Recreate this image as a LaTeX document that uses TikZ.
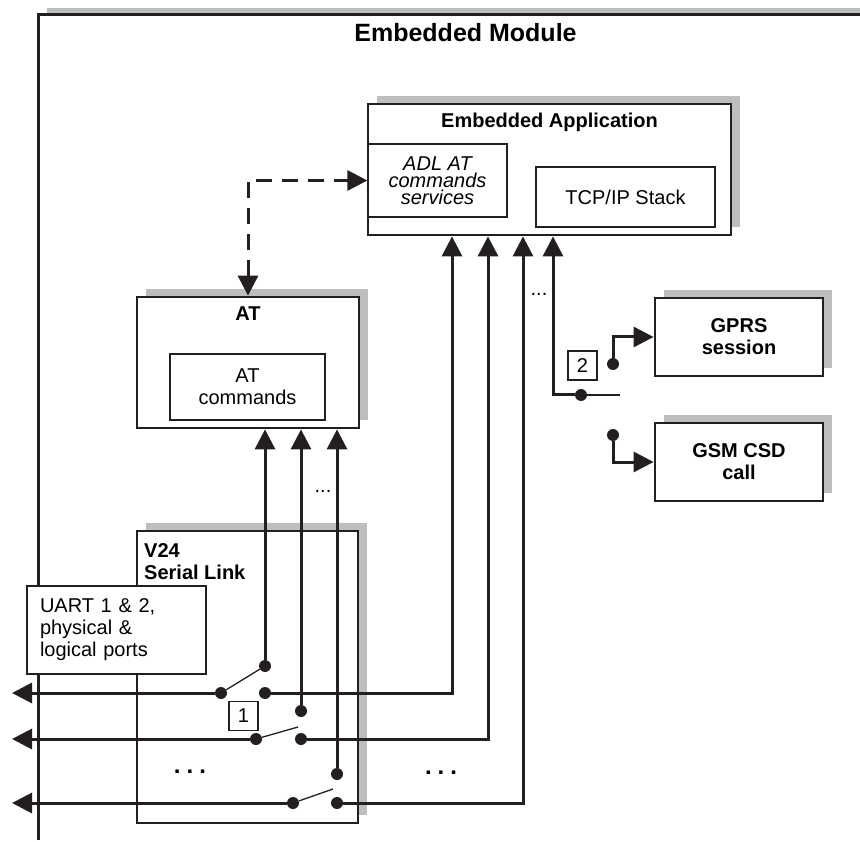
\documentclass[tikz,border=0pt]{standalone}
\usepackage{fontspec}
\setmainfont{Liberation Sans}
\usetikzlibrary{arrows.meta,positioning,shadows}
\definecolor{mygray}{RGB}{188,190,192}
\definecolor{myblack}{RGB}{35,31,32}

\begin{document}
\begin{tikzpicture}[x=1pt,y=-1pt,font=\fontsize{20}{22}\selectfont,
  bbox/.style={draw=myblack,line width=2.8pt,fill=white,
    drop shadow={shadow xshift=9pt,shadow yshift=8pt,fill=mygray,opacity=1}},
  sbox/.style={draw=myblack,line width=1.3pt},
  bold/.style={font=\bfseries\fontsize{20}{22}\selectfont},
  wire/.style={draw=myblack,line width=3pt},
  arr/.style={wire,-{Triangle[length=20pt,width=20pt]}},
  darr/.style={wire,dash pattern=on 16pt off 10pt,
    {Triangle[length=20pt,width=20pt]}-{Triangle[length=20pt,width=20pt]}},
  jdot/.style={circle,fill=myblack,inner sep=0pt,minimum size=12pt},
  lever/.style={draw=myblack,line width=1.3pt}]

  \useasboundingbox (0,0) rectangle (860,842);

  % module frame
  \fill[mygray] (47,8) rectangle (860,15);
  \draw[wire] (38,840) -- (38,15) -- (860,15);
  \node[anchor=base,font=\bfseries\fontsize{25}{30}\selectfont] (emod) at (465.5,41.5) {Embedded Module};

  % embedded application
  \node[bbox,minimum width=363pt,minimum height=131pt] (ea) at (549.5,169.5) {};
  \node[anchor=base,bold] (eatitle) at ([yshift=-25pt]ea.north) {Embedded Application};
  \node[sbox,minimum width=139pt,minimum height=73pt,align=center,
    font=\itshape\fontsize{20}{17}\selectfont] (adl) at (437.5,180.5) {ADL AT\\commands\\services};
  \node[sbox,minimum width=179pt,minimum height=60pt] (tcp) at (625.5,197) {TCP/IP Stack};

  % AT
  \node[bbox,minimum width=222pt,minimum height=131pt] (at) at (248,362.5) {};
  \node[anchor=base,bold] (attitle) at ([yshift=-25pt]at.north) {AT};
  \node[sbox,minimum width=155pt,minimum height=66pt,align=center] (atcmd) at (247.5,387) {AT\\commands};

  % bearers
  \node[bbox,bold,minimum width=168pt,minimum height=78pt,align=center] (gprs) at (739,337) {GPRS\\session};
  \node[bbox,bold,minimum width=168pt,minimum height=78pt,align=center] (gsm) at (739,462) {GSM CSD\\call};

  % serial link
  \node[bbox,minimum width=221pt,minimum height=292pt] (v24) at (247.5,677) {};
  \node[bold,anchor=north west,inner sep=0pt,align=left] (v24txt) at (144,543) {V24\\Serial Link};
  \node[sbox,fill=white,minimum height=88pt,text width=153pt,inner xsep=13pt,align=left] (uart) at (116.5,630)
    {UART 1 \& 2,\\physical \&\\logical ports};

  \node[sbox,minimum size=29pt,inner sep=0pt] (sw1) at (243.5,716) {1};
  \node[sbox,minimum size=29pt,inner sep=0pt] (sw2) at (582.5,365.5) {2};

  \node[anchor=base] (dots1) at (323,492) {...};
  \node[anchor=base] (dots2) at (539,296) {...};
  \node[anchor=base,font=\bfseries\fontsize{24}{26}\selectfont] (dots3) at (190,773) {.\hspace{6pt}.\hspace{6pt}.};
  \node[anchor=base,font=\bfseries\fontsize{24}{26}\selectfont] (dots4) at (441,774) {.\hspace{6pt}.\hspace{6pt}.};

  % switch contacts
  \node[jdot] (p1) at (221,693) {};
  \node[jdot] (c1) at (265,693) {};
  \node[jdot] (a1) at (265,666) {};
  \node[jdot] (p2) at (256,739) {};
  \node[jdot] (c2) at (301,739) {};
  \node[jdot] (a2) at (301,711) {};
  \node[jdot] (p3) at (293,803) {};
  \node[jdot] (c3) at (337,803) {};
  \node[jdot] (a3) at (337,774) {};
  \node[jdot] (q) at (581,395) {};
  \node[jdot] (g1) at (613,364) {};
  \node[jdot] (g2) at (613,435) {};

  \coordinate (o1) at (12,693);
  \coordinate (o2) at (12,739);
  \coordinate (o3) at (12,803);
  \coordinate (l2) at (298,727);
  \coordinate (l3) at (333,789);
  \coordinate (l4) at (620,395);
  \coordinate (e1) at ([xshift=-97.5pt]ea.south);
  \coordinate (e2) at ([xshift=-61.5pt]ea.south);
  \coordinate (e3) at ([xshift=-26.5pt]ea.south);
  \coordinate (e4) at ([xshift=3.5pt]ea.south);

  % AT to ADL services
  \draw[darr] (at.north) |- (adl.west);

  % ports out of the serial link
  \draw[arr] (p1) -- (o1);
  \draw[arr] (p2) -- (o2);
  \draw[arr] (p3) -- (o3);
  \draw[lever] (p1) -- (a1);
  \draw[lever] (p2) -- (l2);
  \draw[lever] (p3) -- (l3);

  % up to AT
  \draw[arr] (a1) -- (a1 |- at.south);
  \draw[arr] (a2) -- (a2 |- at.south);
  \draw[arr] (a3) -- (a3 |- at.south);

  % up to embedded application
  \draw[arr] (c1) -| (e1);
  \draw[arr] (c2) -| (e2);
  \draw[arr] (c3) -| (e3);
  \draw[arr] (q) -| (e4);
  \draw[lever] (q) -- (l4);
  \draw[arr] (g1) |- (gprs.west);
  \draw[arr] (g2) |- (gsm.west);

\end{tikzpicture}
\end{document}
